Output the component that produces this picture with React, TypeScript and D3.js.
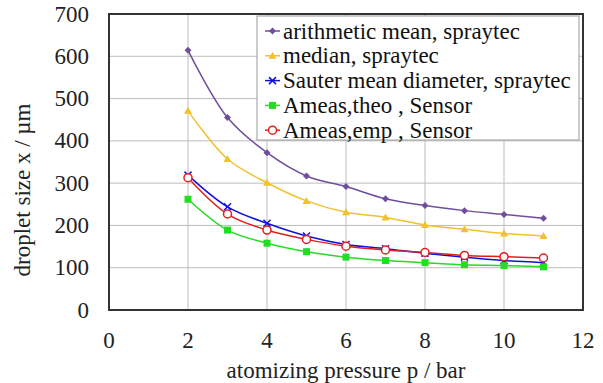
import React from "react";
import * as d3 from "d3";

const pressures = [2, 3, 4, 5, 6, 7, 8, 9, 10, 11];
const arithmeticMean = [614, 455, 372, 317, 292, 263, 247, 235, 226, 217];
const median = [471, 357, 301, 258, 231, 219, 201, 191, 181, 175];
const sauter = [319, 244, 205, 175, 155, 145, 134, 125, 117, 112];
const ameasTheo = [262, 189, 158, 138, 125, 117, 112, 107, 105, 102];
const ameasEmp = [313, 227, 189, 167, 151, 142, 136, 129, 126, 123];

const xTicks = [0, 2, 4, 6, 8, 10, 12];
const yTicks = [0, 100, 200, 300, 400, 500, 600, 700];

const seriesNames = [
  "arithmetic mean, spraytec",
  "median, spraytec",
  "Sauter mean diameter, spraytec",
  "Ameas,theo , Sensor",
  "Ameas,emp , Sensor",
];

type Series = { name: string; values: number[]; color: string; marker: string };

const series: Series[] = [
  { name: seriesNames[0], values: arithmeticMean, color: "#6F4E9E", marker: "diamond" },
  { name: seriesNames[1], values: median, color: "#F2C12E", marker: "triangle" },
  { name: seriesNames[2], values: sauter, color: "#1010E0", marker: "x" },
  { name: seriesNames[3], values: ameasTheo, color: "#22DD22", marker: "square" },
  { name: seriesNames[4], values: ameasEmp, color: "#E02020", marker: "circle" },
];

const W = 603;
const H = 383;
const L = 109, R = 583, T = 14, B = 310;
const font = "Liberation Serif";
const fs = 23;

function Marker({ type, x, y, color }: { type: string; x: number; y: number; color: string }) {
  switch (type) {
    case "diamond":
      return <path d={`M${x},${y - 3.5}L${x + 3.5},${y}L${x},${y + 3.5}L${x - 3.5},${y}Z`} fill={color} />;
    case "triangle":
      return <path d={`M${x},${y - 4}L${x + 4},${y + 3}L${x - 4},${y + 3}Z`} fill={color} />;
    case "x":
      return (
        <g stroke={color} strokeWidth={1.5}>
          <line x1={x - 3.5} y1={y - 3.5} x2={x + 3.5} y2={y + 3.5} />
          <line x1={x - 3.5} y1={y + 3.5} x2={x + 3.5} y2={y - 3.5} />
        </g>
      );
    case "square":
      return <rect x={x - 3.5} y={y - 3.5} width={7} height={7} fill={color} />;
    case "circle":
      return <circle cx={x} cy={y} r={4} fill="white" stroke={color} strokeWidth={1.5} />;
    default:
      return null;
  }
}

export default function App() {
  const x = d3.scaleLinear().domain([0, 12]).range([L, R]);
  const y = d3.scaleLinear().domain([0, 700]).range([B, T]);
  const line = d3
    .line<number>()
    .x((_, i) => x(pressures[i]))
    .y((d) => y(d))
    .curve(d3.curveCatmullRom.alpha(0.5));

  const legX = 257, legY = 16, legW = 322, legH = 124, rowH = 24.8;
  const ts: React.CSSProperties = { fontFamily: font, fontSize: fs };

  return (
    <svg width={W} height={H} style={{ position: "absolute", left: 0, top: 0, background: "white" }}>
      <rect width={W} height={H} fill="white" />
      {xTicks.slice(1, -1).map((t) => (
        <line key={"gx" + t} x1={x(t)} x2={x(t)} y1={T} y2={B} stroke="#BDBDBD" strokeWidth={1} />
      ))}
      {yTicks.slice(1, -1).map((t) => (
        <line key={"gy" + t} x1={L} x2={R} y1={y(t)} y2={y(t)} stroke="#BDBDBD" strokeWidth={1} />
      ))}
      {series.map((s) => (
        <g key={s.name}>
          <path d={line(s.values) || ""} fill="none" stroke={s.color} strokeWidth={1.5} />
          {s.values.map((v, i) => (
            <Marker key={i} type={s.marker} x={x(pressures[i])} y={y(v)} color={s.color} />
          ))}
        </g>
      ))}
      <rect x={L} y={T} width={R - L} height={B - T} fill="none" stroke="#333" strokeWidth={2} />
      <rect x={legX} y={legY} width={legW} height={legH} fill="white" stroke="#999" strokeWidth={1} />
      {series.map((s, i) => {
        const cy = legY + 15 + i * rowH;
        return (
          <g key={"leg" + i}>
            <line x1={legX + 8} x2={legX + 23} y1={cy} y2={cy} stroke={s.color} strokeWidth={1.5} />
            <Marker type={s.marker} x={legX + 15.5} y={cy} color={s.color} />
            <text x={legX + 26} y={cy} dominantBaseline="central" style={ts} fill="#111">
              {s.name}
            </text>
          </g>
        );
      })}
      {yTicks.map((t) => (
        <text key={"yt" + t} x={89} y={y(t)} textAnchor="end" dominantBaseline="central" style={ts} fill="#222">
          {t}
        </text>
      ))}
      {xTicks.map((t) => (
        <text key={"xt" + t} x={x(t)} y={340} textAnchor="middle" dominantBaseline="central" style={ts} fill="#222">
          {t}
        </text>
      ))}
      <text x={346} y={370} textAnchor="middle" dominantBaseline="central" style={ts} fill="#222">
        atomizing pressure p / bar
      </text>
      <text
        transform={`translate(22,190) rotate(-90)`}
        textAnchor="middle"
        dominantBaseline="central"
        style={ts}
        fill="#222"
      >
        droplet size x / µm
      </text>
    </svg>
  );
}
